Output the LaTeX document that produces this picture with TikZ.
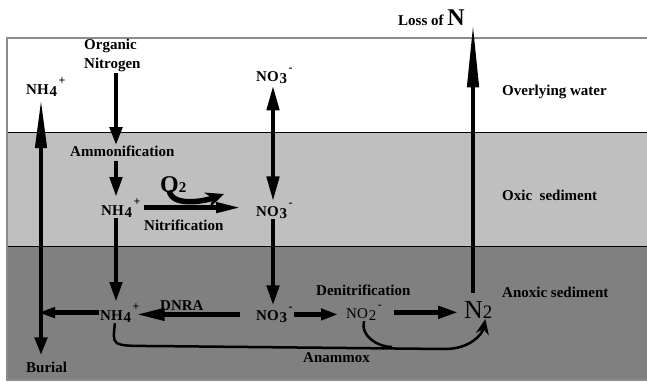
\documentclass[tikz,border=0pt]{standalone}
\usepackage{fontspec}
\setmainfont{Liberation Serif}
\usetikzlibrary{arrows.meta}
\definecolor{oxicgray}{gray}{0.75}
\definecolor{anoxicgray}{gray}{0.5}
\definecolor{framegray}{gray}{0.55}
\newcommand{\ion}[3]{#1\kern1pt\lower2pt\hbox{#2}\kern1.5pt\raise10pt\hbox{\fontsize{12}{12}\selectfont #3}}
\tikzset{
	lbl/.style={font=\bfseries\fontsize{15}{19}\selectfont, inner sep=1pt, anchor=base west},
	flux/.style={line width=4.5pt, -{Triangle[length=20pt,width=12pt]}},
	anamflow/.style={line width=2.5pt, -{Stealth[length=15pt,width=13pt]}},
}
\begin{document}
\begin{tikzpicture}[x=1pt,y=-1pt]
	\useasboundingbox (0,0) rectangle (647,382);
	\fill[white] (0,0) rectangle (647,382);
	\fill[oxicgray] (7,132) rectangle (647,246);
	\fill[anoxicgray] (7,246) rectangle (647,380);
	\draw (7,132) -- (647,132);
	\draw (7,246) -- (647,246);
	\draw[framegray, line width=1.5pt] (647,38) -- (7,38) -- (7,380) -- (647,380);
	\coordinate (colL) at (41,0);
	\coordinate (colA) at (116,0);
	\coordinate (colB) at (273,0);
	\coordinate (colN) at (473,0);
	\coordinate (oxyTip) at (224,194);
	\coordinate (anamL) at (150,346);
	\coordinate (anamR) at (445,349);
	\coordinate (anamJ) at (392,347);
	\node[lbl] (lossN) at (397,26) {Loss of {\fontsize{24}{24}\selectfont N}};
	\node[lbl, anchor=north west, align=left] (orgN) at (83,38) {Organic\\Nitrogen};
	\node[lbl] (nhTop) at (25,95) {\ion{NH}{4}{+}};
	\node[lbl] (noTop) at (255,82) {\ion{NO}{3}{-}};
	\node[lbl] (amm) at (69,157) {Ammonification};
	\node[lbl] (nhOxic) at (100,215) {\ion{NH}{4}{+}};
	\node[lbl] (noOxic) at (255,216) {\ion{NO}{3}{-}};
	\node[lbl] (nitr) at (143,230) {Nitrification};
	\node[lbl] (oxy) at (159,192) {{\fontsize{24}{24}\selectfont O}2};
	\node[lbl] (nhAnox) at (99,320) {\ion{NH}{4}{+}};
	\node[lbl] (noAnox) at (255,320) {\ion{NO}{3}{-}};
	\node[lbl] (dnra) at (159,310) {DNRA};
	\node[lbl] (burial) at (25,372) {Burial};
	\node[lbl] (denit) at (315,295) {Denitrification};
	\node[lbl, font=\fontsize{15}{18}\selectfont] (noTwo) at (345,318) {\ion{NO}{2}{-}};
	\node[lbl, font=\fontsize{26}{26}\selectfont] (nTwo) at (463,318) {N{\fontsize{19}{19}\selectfont 2}};
	\node[lbl] (anam) at (302,362) {Anammox};
	\node[lbl] (water) at (501,96) {Overlying water};
	\node[lbl] (oxic) at (501,200) {Oxic\ \ sediment};
	\node[lbl] (anoxic) at (501,297) {Anoxic sediment};
	\draw[flux, -{Triangle[length=18pt,width=12pt]}] (colA |- orgN.south) -- (colA |- amm.north);
	\draw[flux, shorten <=3pt] (colA |- amm.south) -- (colA |- nhOxic.north);
	\draw[flux] (colA |- nhOxic.south) -- (colA |- nhAnox.north);
	\draw[flux, -{Triangle[length=25pt,width=10pt]}, shorten <=2pt, shorten >=14pt] (nhOxic.east) -- (nhOxic.east -| noOxic.west);
	\draw[flux, {Triangle[length=25pt,width=12pt]}-{Triangle[length=25pt,width=12pt]}] (colB |- noTop.south) -- (colB |- noOxic.north);
	\draw[flux] (colB |- noOxic.south) -- (colB |- noAnox.north);
	\draw[flux, -{Triangle[length=28pt,width=12pt]}, shorten <=15pt, shorten >=-4pt] (noAnox.west) -- (noAnox.west -| nhAnox.east);
	\draw[flux, -{Triangle[length=17pt,width=10pt]}, shorten >=-3pt] (nhAnox.west) -- (colL |- nhAnox.west);
	\draw[line width=4.5pt, {Triangle[length=50pt,width=11pt]}-{Triangle[length=18pt,width=12pt]}, shorten >=5pt] (colL |- nhTop.south) -- (colL |- burial.north);
	\draw[flux, -{Triangle[length=17pt,width=11pt]}, shorten >=7pt] (noAnox.east) -- (noAnox.east -| noTwo.west);
	\draw[flux, shorten <=11pt, shorten >=5pt] (noTwo.east) -- (noTwo.east -| nTwo.west);
	\draw[line width=4.5pt, -{Triangle[length=65pt,width=11pt]}, shorten <=7pt, shorten >=-5pt] (colN |- nTwo.north) -- (colN |- lossN.south);
	\draw[line width=5.5pt, -{Stealth[length=18pt,width=16pt]}] ([xshift=-4pt,yshift=3pt]oxy.south) .. controls +(2,16) and +(-22,8) .. (oxyTip);
	\draw[anamflow] ([xshift=-5pt]nhAnox.south) .. controls +(-2,22) and +(-40,0) .. (anamL) -- (anamR) .. controls +(25,0) and +(-3,15) .. ([xshift=7pt]nTwo.south);
	\draw[line width=2.5pt] (noTwo.south) .. controls +(-4,14) and +(-15,0) .. (anamJ);
\end{tikzpicture}
\end{document}
